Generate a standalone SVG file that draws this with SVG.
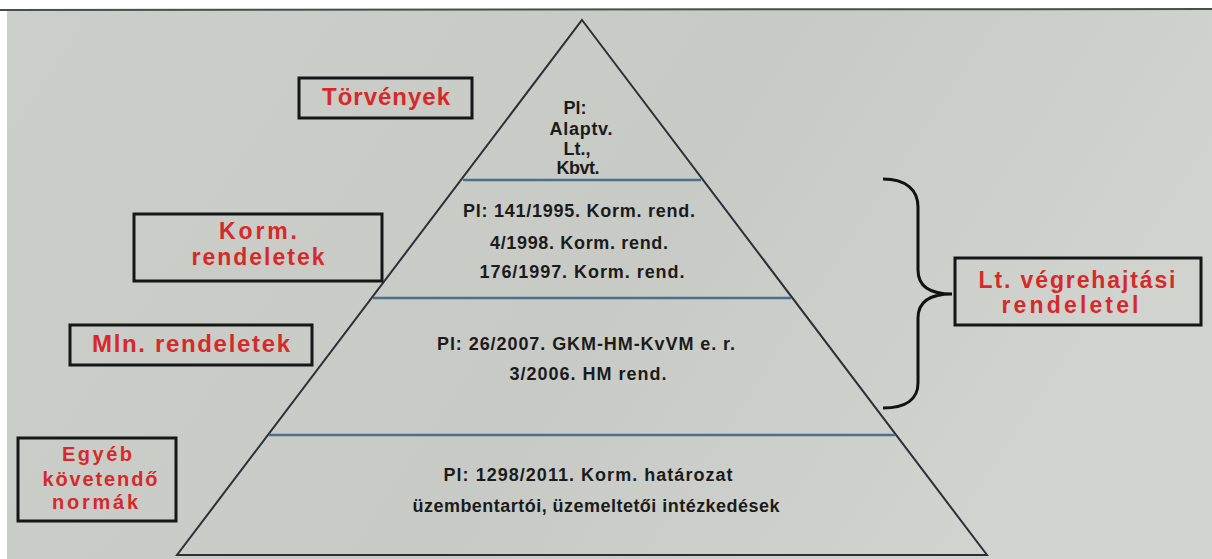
<svg xmlns="http://www.w3.org/2000/svg" width="1212" height="559" viewBox="0 0 1212 559">
<style>
.bg{fill:url(#bgGrad)}
.box{fill:none;stroke:#161616;stroke-width:3}
.lbl{font-family:"Liberation Sans",Arial,sans-serif;font-weight:bold;fill:#d62a2a;text-anchor:middle}
.pt{font-family:"Liberation Sans",Arial,sans-serif;font-weight:bold;fill:#1b1b1b;text-anchor:middle;font-size:18px}
.edge{fill:none;stroke:#2b3035;stroke-width:2}
.tier{fill:none;stroke:#4f6e8e;stroke-width:2.5}
.brace{fill:none;stroke:#111;stroke-width:3}
</style>
<defs>
<linearGradient id="bgGrad" x1="0" y1="0" x2="1" y2="0.3">
<stop offset="0" stop-color="#cbcec9"/>
<stop offset="0.6" stop-color="#c7cac5"/>
<stop offset="1" stop-color="#d1d3ce"/>
</linearGradient>
</defs>
<rect x="0" y="0" width="1212" height="559" fill="#ffffff"/>
<rect class="bg" x="7" y="10" width="1205" height="549"/>
<line x1="0" y1="10" x2="1212" y2="9" stroke="#4a4d4f" stroke-width="2"/>

<g id="pyramid">
<polygon class="edge" points="582,20 987,555 177,555"/>
<line class="tier" x1="463" y1="180" x2="701" y2="180"/>
<line class="tier" x1="373" y1="298" x2="791" y2="298"/>
<line class="tier" x1="269" y1="435" x2="895" y2="435"/>
</g>

<g id="tier-torvenyek">
<text class="pt" font-size="17" x="575" y="114">Pl:</text>
<text class="pt" font-size="17" x="581" y="135" textLength="63" lengthAdjust="spacing">Alaptv.</text>
<text class="pt" font-size="17" x="577" y="155">Lt.,</text>
<text class="pt" font-size="17" x="578" y="174" textLength="43" lengthAdjust="spacing">Kbvt.</text>
</g>

<g id="tier-korm">
<text class="pt" x="579" y="217" textLength="232" lengthAdjust="spacing">Pl: 141/1995. Korm. rend.</text>
<text class="pt" x="579" y="249" textLength="178" lengthAdjust="spacing">4/1998. Korm. rend.</text>
<text class="pt" x="582" y="278" textLength="205" lengthAdjust="spacing">176/1997. Korm. rend.</text>
</g>

<g id="tier-min">
<text class="pt" x="586" y="350" textLength="298" lengthAdjust="spacing">Pl: 26/2007. GKM-HM-KvVM e. r.</text>
<text class="pt" x="588" y="380" textLength="157" lengthAdjust="spacing">3/2006. HM rend.</text>
</g>

<g id="tier-egyeb">
<text class="pt" x="588" y="481" textLength="289" lengthAdjust="spacing">Pl: 1298/2011. Korm. határozat</text>
<text class="pt" x="596" y="512" textLength="367" lengthAdjust="spacing">üzembentartói, üzemeltetői intézkedések</text>
</g>

<g id="label-torvenyek">
<rect class="box" x="299" y="78" width="173" height="40"/>
<text class="lbl" font-size="24" x="386" y="105" textLength="128" lengthAdjust="spacing">Törvények</text>
</g>

<g id="label-korm">
<rect class="box" x="134" y="214" width="248" height="67"/>
<text class="lbl" font-size="23" x="258" y="239" textLength="78" lengthAdjust="spacing">Korm.</text>
<text class="lbl" font-size="23" x="258" y="265" textLength="133" lengthAdjust="spacing">rendeletek</text>
</g>

<g id="label-min">
<rect class="box" x="70" y="325" width="242" height="40"/>
<text class="lbl" font-size="24" x="191" y="352" textLength="198" lengthAdjust="spacing">Mln. rendeletek</text>
</g>

<g id="label-egyeb">
<rect class="box" x="18" y="438" width="158" height="83"/>
<text class="lbl" font-size="20" x="97" y="461" textLength="70" lengthAdjust="spacing">Egyéb</text>
<text class="lbl" font-size="20" x="100" y="486" textLength="115" lengthAdjust="spacing">követendő</text>
<text class="lbl" font-size="20" x="95" y="509" textLength="86" lengthAdjust="spacing">normák</text>
</g>

<g id="label-vegrehajtasi">
<rect class="box" x="955" y="258" width="246" height="67"/>
<text class="lbl" font-size="23" x="1077" y="288" textLength="197" lengthAdjust="spacing">Lt. végrehajtási</text>
<text class="lbl" font-size="23" x="1070" y="313" textLength="137" lengthAdjust="spacing">rendeletel</text>
</g>

<g id="connectors">
<path class="brace" d="M883,179 C906,179 918,190 918,207 L918,270 C918,286 930,294 952,294 C930,294 918,302 918,318 L918,383 C918,399 906,408 883,408"/>
</g>
</svg>
